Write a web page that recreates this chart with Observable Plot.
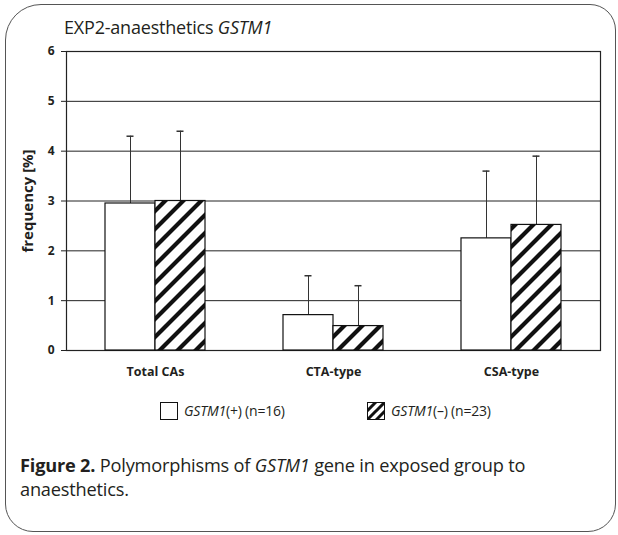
<!DOCTYPE html>
<html><head><meta charset="utf-8">
<script src="https://cdn.jsdelivr.net/npm/d3@7"></script>
<script src="https://cdn.jsdelivr.net/npm/@observablehq/plot@0.6"></script>
<style>
html,body{margin:0;padding:0;background:#fff;}
#wrap{position:relative;width:618px;height:535px;font-family:"Open Sans",sans-serif;color:#231f20;overflow:hidden;}
#border{position:absolute;left:5px;top:4px;width:611px;height:528px;border:1.5px solid #555;border-radius:36px 26px 28px 28px;box-sizing:border-box;}
#title{position:absolute;left:64px;top:16px;font-size:18px;line-height:22px;white-space:nowrap;letter-spacing:-0.2px;}
#chart{position:absolute;left:0;top:41px;}
.leg{position:absolute;top:401px;display:flex;align-items:center;font-size:14px;white-space:nowrap;letter-spacing:-0.2px;}
.leg svg{margin-right:6px;display:block;}
#caption{position:absolute;left:20px;top:454px;font-size:18.2px;line-height:23.5px;width:590px;letter-spacing:-0.2px;white-space:nowrap;}
</style></head>
<body>
<svg width="0" height="0" style="position:absolute">
  <defs>
    <pattern id="hatch" patternUnits="userSpaceOnUse" width="18" height="18">
      <rect width="18" height="18" fill="#fff"/>
      <path d="M0,18 L18,0 M-4.5,4.5 L4.5,-4.5 M13.5,22.5 L22.5,13.5" stroke="#111" stroke-width="4.2"/>
    </pattern>
    <pattern id="hatchLegend" patternUnits="userSpaceOnUse" width="9" height="9">
      <rect width="9" height="9" fill="#fff"/>
      <path d="M0,9 L9,0 M-2.25,2.25 L2.25,-2.25 M6.75,11.25 L11.25,6.75" stroke="#111" stroke-width="3"/>
    </pattern>
  </defs>
</svg>
<div id="wrap">
  <div id="border"></div>
  <div id="title"></div>
  <div id="chart"></div>
  <div id="legend"></div>
  <div id="caption"><b>Figure 2.</b> Polymorphisms of <i>GSTM1</i> gene in exposed group to<br><span>anaesthetics.</span></div>
</div>
<script>
// ---- data ----
const titleText = "EXP2-anaesthetics";
const gene = "GSTM1";
const categories = ["Total CAs", "CTA-type", "CSA-type"];
const seriesKeys = ["+", "–"];
const seriesN = [16, 23];
const plusMean = [2.95, 0.71, 2.25];
const minusMean = [3.0, 0.49, 2.52];
const plusSD = [1.35, 0.79, 1.35];
const minusSD = [1.4, 0.81, 1.38];
const yTicks = [0, 1, 2, 3, 4, 5, 6];
const yLabel = "frequency [%]";

// ---- table ----
const rows = categories.flatMap((c, i) => [
  {cat: c, s: seriesKeys[0], v: plusMean[i], e: plusSD[i]},
  {cat: c, s: seriesKeys[1], v: minusMean[i], e: minusSD[i]}
]);
const fills = {[seriesKeys[0]]: "white", [seriesKeys[1]]: "url(#hatch)"};

document.getElementById("title").innerHTML = `${titleText} <i>${gene}</i>`;

const chart = Plot.plot({
  width: 618, height: 349,
  marginTop: 10, marginBottom: 40, marginLeft: 65, marginRight: 17,
  style: {fontFamily: "'Open Sans', sans-serif", color: "#231f20", background: "transparent", overflow: "visible"},
  fx: {domain: categories, paddingInner: 0, paddingOuter: 0},
  x: {domain: seriesKeys, paddingInner: 0, paddingOuter: 0.75, axis: null},
  y: {domain: [0, 6]},
  marks: [
    Plot.gridY(yTicks, {stroke: "#222", strokeOpacity: 1, strokeWidth: 1}),
    Plot.frame({facet: "super", stroke: "#222", strokeWidth: 1.2}),
    Plot.ruleX(rows, {fx: "cat", x: "s", y1: "v", y2: d => d.v + d.e, stroke: "#333", strokeWidth: 1}),
    Plot.tickY(rows, {fx: "cat", x: "s", y: d => d.v + d.e, insetLeft: 21.5, insetRight: 21.5, stroke: "#333", strokeWidth: 1.5}),
    Plot.barY(rows, {fx: "cat", x: "s", y: "v", fill: d => fills[d.s], stroke: "#111", strokeWidth: 1.2}),
    Plot.axisY(yTicks, {tickSize: 5, tickPadding: 7, tickFormat: d3.format("d"), fontWeight: "bold", fontSize: 12, stroke: "#222", label: null}),
    Plot.axisY([], {fontWeight: "bold", fontSize: 15, label: yLabel, labelAnchor: "center", labelOffset: 44, labelArrow: "none"}),
    Plot.axisFx({anchor: "bottom", tickSize: 0, tickPadding: 17, fontWeight: "bold", fontSize: 12.5, label: null})
  ]
});
document.getElementById("chart").appendChild(chart);

// ---- legend ----
const legend = document.getElementById("legend");
const legX = [160, 367];
const legFill = ["white", "url(#hatchLegend)"];
seriesKeys.forEach((k, i) => {
  const d = document.createElement("div");
  d.className = "leg";
  d.style.left = legX[i] + "px";
  d.innerHTML = `<svg width="18" height="18"><rect x="0.5" y="0.5" width="17" height="17" fill="${legFill[i]}" stroke="#111"/></svg><span><i>${gene}</i>(${k}) (n=${seriesN[i]})</span>`;
  legend.appendChild(d);
});
</script>
</body></html>
